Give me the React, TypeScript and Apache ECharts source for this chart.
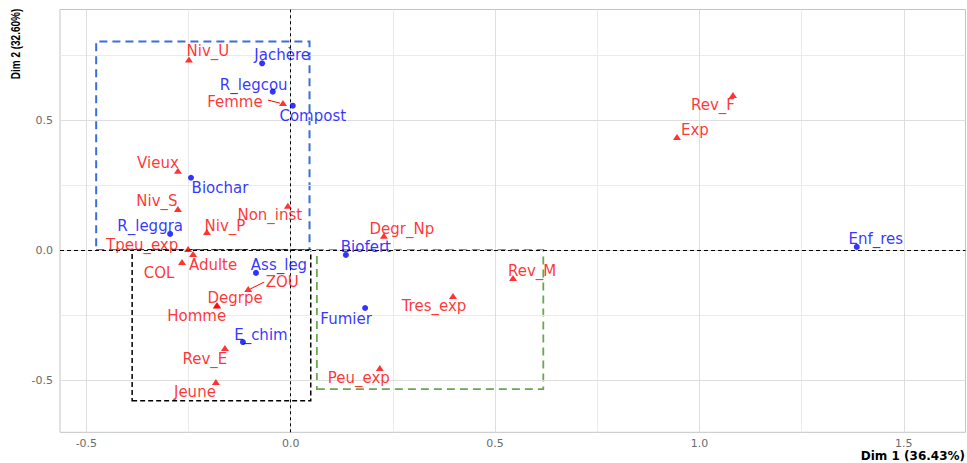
import React, { useEffect, useRef } from "react";
import * as echarts from "echarts";

// ---------- data ----------
const xMajor = [-0.5, 0, 0.5, 1, 1.5];
const yMajor = [-0.5, 0, 0.5];
const xMinor = [-0.25, 0.25, 0.75, 1.25];
const yMinor = [-0.25, 0.25, 0.75];

const xTitle = "Dim 1 (36.43%)";
const yTitle = "Dim 2 (32.60%)";

// socio-economic modalities (red triangles)
const redNames = [
  "Niv_U", "Femme", "Vieux", "Niv_S", "Non_inst", "Niv_P", "Tpeu_exp", "Adulte",
  "COL", "ZOU", "Degrpe", "Homme", "Rev_E", "Jeune", "Degr_Np", "Rev_M",
  "Tres_exp", "Peu_exp", "Rev_F", "Exp",
];
const redX = [
  -0.249, -0.019, -0.276, -0.276, -0.007, -0.205, -0.251, -0.239,
  -0.266, -0.104, -0.180, -0.181, -0.161, -0.183, 0.228, 0.544,
  0.397, 0.218, 1.082, 0.945,
];
const redY = [
  0.733, 0.565, 0.305, 0.158, 0.170, 0.069, 0.004, -0.015,
  -0.046, -0.150, -0.212, -0.213, -0.377, -0.508, 0.055, -0.108,
  -0.177, -0.454, 0.596, 0.435,
];

// practices (blue dots)
const blueNames = [
  "Jachère", "R_legcou", "Compost", "Biochar", "R_leggra", "Ass_leg",
  "E_chim", "Biofert", "Fumier", "Enf_res",
];
const blueX = [-0.070, -0.044, 0.005, -0.244, -0.295, -0.085, -0.117, 0.135, 0.182, 1.385];
const blueY = [0.718, 0.609, 0.555, 0.278, 0.062, -0.088, -0.354, -0.019, -0.223, 0.012];

// dashed groupings
const boxNames = ["blue", "black", "green"];
const boxX0 = [-0.476, -0.388, 0.064];
const boxX1 = [0.046, 0.049, 0.618];
const boxY0 = [0.0, -0.58, -0.535];
const boxY1 = [0.802, 0.0, 0.0];

// ---------- layout / style ----------
const X_MIN = -0.5645;
const X_MAX = 1.651;
const Y_MIN = -0.701;
const Y_MAX = 0.925;

const RED = "#FF0000";
const BLUE = "#0000FF";
const boxStyle: Record<string, { color: string; width: number; dash: number[] }> = {
  blue: { color: "#3B6FD6", width: 2, dash: [8, 5] },
  black: { color: "#000000", width: 1.5, dash: [5, 3] },
  green: { color: "#6AA84F", width: 1.8, dash: [8, 5] },
};

// label offsets in pixels from the marker centre (ggrepel-like placement)
const labelNudge: Record<string, [number, number]> = {
  Niv_U: [19, -8], Femme: [-48, -1], Vieux: [-20, -8], Niv_S: [-21, -8],
  Non_inst: [-18, 9], Niv_P: [18, -6], Tpeu_exp: [-46, -4], Adulte: [20, 11],
  COL: [-23, 11], ZOU: [34, -7], Degrpe: [18, -7], Homme: [-20, 11],
  Rev_E: [-20, 11], Jeune: [-21, 10], Degr_Np: [18, -7], Rev_M: [19, -7],
  Tres_exp: [-19, 10], Peu_exp: [-21, 10], Rev_F: [-20, 10], Exp: [18, -7],
  "Jachère": [20, -8], R_legcou: [-19, -7], Compost: [20, 10], Biochar: [29, 10],
  R_leggra: [-20, -8], Ass_leg: [23, -8], E_chim: [18, -7], Biofert: [20, -8],
  Fumier: [-19, 11], Enf_res: [19, -8],
};

const LABEL_FONT = "DejaVu Sans";
const LABEL_SIZE = 15;

export default function App() {
  const ref = useRef<HTMLDivElement>(null);

  useEffect(() => {
    if (!ref.current) return;
    const chart = echarts.init(ref.current, null, { renderer: "svg" });

    const mkPoints = (names: string[], xs: number[], ys: number[]) =>
      names.map((n, i) => ({
        name: n,
        value: [xs[i], ys[i]],
        label: { offset: labelNudge[n] || [0, 0] },
      }));

    const gridLines = [
      ...xMinor.map((v) => ({ xAxis: v, lineStyle: { color: "#EBEBEB", width: 1, type: "solid" } })),
      ...yMinor.map((v) => ({ yAxis: v, lineStyle: { color: "#EBEBEB", width: 1, type: "solid" } })),
      ...xMajor.map((v) => ({ xAxis: v, lineStyle: { color: "#DEDEDE", width: 1, type: "solid" } })),
      ...yMajor.map((v) => ({ yAxis: v, lineStyle: { color: "#DEDEDE", width: 1, type: "solid" } })),
    ];

    const areas = boxNames.map((b, i) => {
      const s = boxStyle[b];
      return [
        {
          xAxis: boxX0[i],
          yAxis: boxY0[i],
          itemStyle: {
            color: "rgba(0,0,0,0)",
            borderColor: s.color,
            borderWidth: s.width,
            borderType: s.dash,
          },
        },
        { xAxis: boxX1[i], yAxis: boxY1[i] },
      ];
    });

    const axisCommon = {
      type: "value" as const,
      axisLine: { show: false },
      splitLine: { show: false },
    };

    chart.setOption({
      animation: false,
      backgroundColor: "#FFFFFF",
      grid: {
        left: 60,
        right: 1.5,
        top: 9.5,
        bottom: 30.7,
        show: true,
        borderColor: "#C4C4C4",
        borderWidth: 1,
        backgroundColor: "rgba(0,0,0,0)",
      },
      xAxis: {
        ...axisCommon,
        min: X_MIN,
        max: X_MAX,
        axisTick: { show: true, customValues: xMajor, length: 4, lineStyle: { color: "#C4C4C4" } },
        axisLabel: {
          customValues: xMajor,
          formatter: (v: number) => v.toFixed(1),
          color: "#6B6B6B",
          fontFamily: "DejaVu Sans",
          fontSize: 11,
          margin: 6,
        },
      },
      yAxis: {
        ...axisCommon,
        min: Y_MIN,
        max: Y_MAX,
        axisTick: { show: true, customValues: yMajor, length: 4, lineStyle: { color: "#C4C4C4" } },
        axisLabel: {
          customValues: yMajor,
          formatter: (v: number) => v.toFixed(1),
          color: "#6B6B6B",
          fontFamily: "DejaVu Sans",
          fontSize: 11,
          margin: 7,
        },
      },
      series: [
        {
          type: "scatter",
          data: [],
          z: 1,
          silent: true,
          markLine: {
            silent: true,
            symbol: ["none", "none"],
            label: { show: false },
            data: gridLines,
          },
        },
        {
          type: "scatter",
          data: [],
          z: 2,
          silent: true,
          markArea: { silent: true, label: { show: false }, data: areas },
        },
        {
          type: "scatter",
          data: [],
          z: 3,
          silent: true,
          markLine: {
            silent: true,
            symbol: ["none", "none"],
            label: { show: false },
            data: [
              { xAxis: 0, lineStyle: { color: "#000", width: 1, type: [3, 3] } },
              { yAxis: 0, lineStyle: { color: "#000", width: 1, type: [4, 3] } },
            ],
          },
        },
        {
          type: "scatter",
          z: 5,
          symbol: "triangle",
          symbolSize: [8, 6],
          itemStyle: { color: RED },
          label: {
            show: true,
            position: "inside",
            formatter: "{b}",
            color: RED,
            fontFamily: LABEL_FONT,
            fontSize: LABEL_SIZE,
          },
          data: mkPoints(redNames, redX, redY),
        },
        {
          type: "scatter",
          z: 5,
          symbol: "circle",
          symbolSize: 6,
          itemStyle: { color: BLUE },
          label: {
            show: true,
            position: "inside",
            formatter: "{b}",
            color: BLUE,
            fontFamily: LABEL_FONT,
            fontSize: LABEL_SIZE,
          },
          data: mkPoints(blueNames, blueX, blueY),
        },
      ],
    });

    // leader segments for the two labels pushed away from their points
    const seg = (name: string, from: [number, number], to: [number, number]) => {
      const i = redNames.indexOf(name);
      const p = chart.convertToPixel({ gridIndex: 0 }, [redX[i], redY[i]]) as number[];
      return {
        type: "line",
        silent: true,
        z: 10,
        shape: { x1: p[0] + from[0], y1: p[1] + from[1], x2: p[0] + to[0], y2: p[1] + to[1] },
        style: { stroke: RED, lineWidth: 1 },
      };
    };

    chart.setOption({
      graphic: [
        seg("Femme", [-15, -3], [-3, 0]),
        seg("ZOU", [16, -7], [2, 0]),
        {
          type: "text",
          x: 15,
          y: 44,
          rotation: Math.PI / 2,
          scaleY: 1.35,
          silent: true,
          style: {
            text: yTitle,
            fill: "#000",
            fontFamily: "Liberation Sans",
            fontWeight: "bold",
            fontSize: 10,
            align: "center",
            verticalAlign: "middle",
          },
        },
        {
          type: "text",
          x: 965,
          y: 456,
          silent: true,
          style: {
            text: xTitle,
            fill: "#000",
            fontFamily: "DejaVu Sans",
            fontWeight: "bold",
            fontSize: 12,
            align: "right",
            verticalAlign: "middle",
          },
        },
      ],
    });

    return () => chart.dispose();
  }, []);

  return (
    <div
      ref={ref}
      style={{
        position: "fixed",
        left: 0,
        top: 0,
        width: 967,
        height: 463,
        background: "#FFFFFF",
      }}
    />
  );
}
